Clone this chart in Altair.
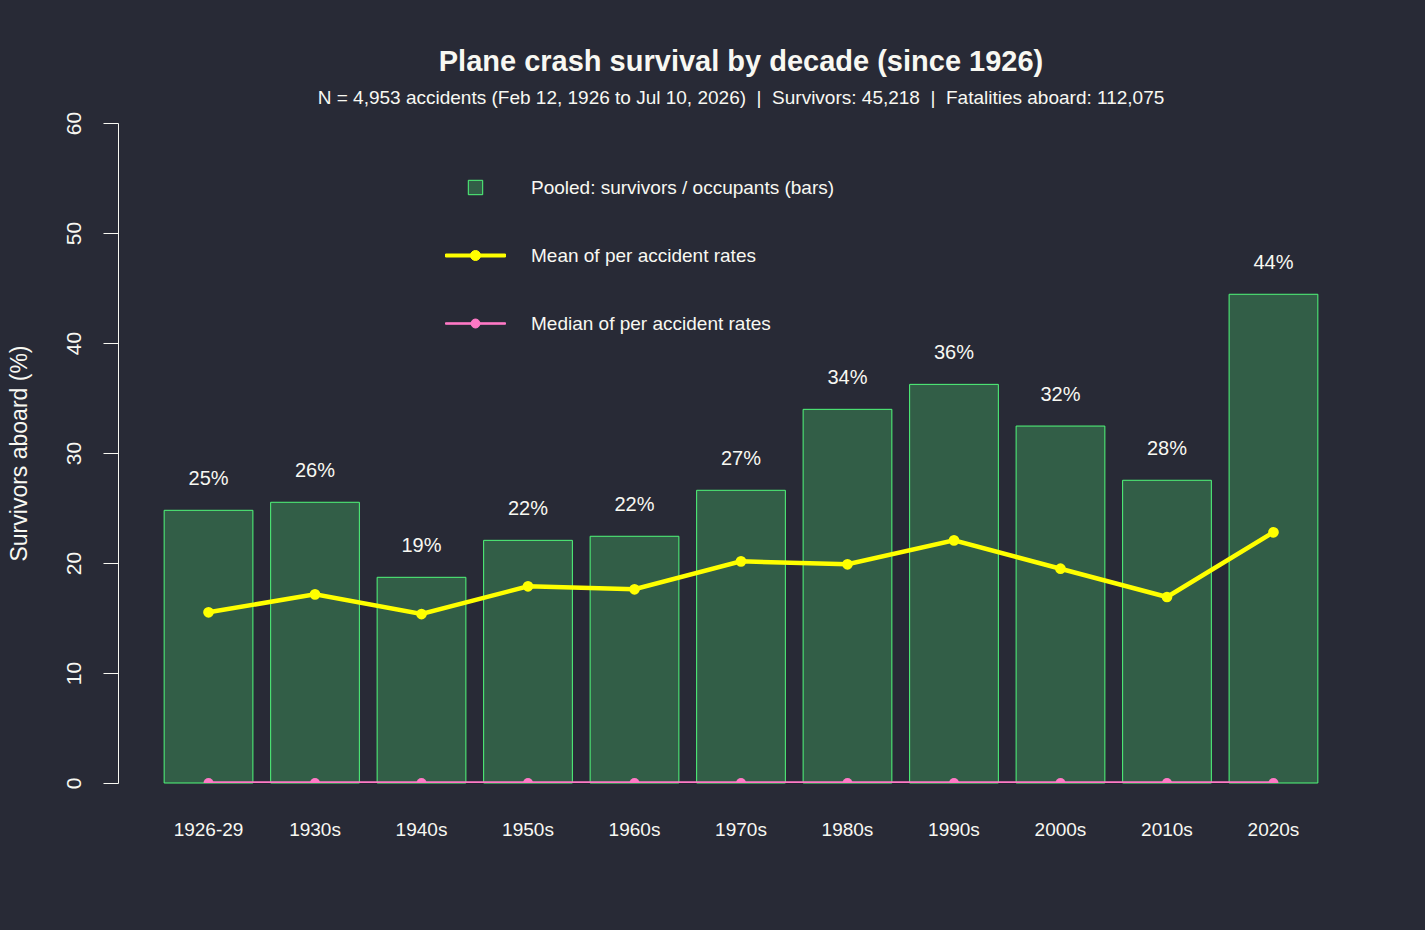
import altair as alt
import pandas as pd

# Survival rates by decade (percent of occupants aboard who survived)
decades = ["1926-29", "1930s", "1940s", "1950s", "1960s", "1970s",
           "1980s", "1990s", "2000s", "2010s", "2020s"]
pooled_rate = [24.79, 25.52, 18.70, 22.06, 22.43, 26.61, 33.97, 36.24, 32.45, 27.52, 44.43]
mean_rate = [15.52, 17.15, 15.36, 17.88, 17.61, 20.15, 19.88, 22.06, 19.48, 16.91, 22.79]
median_rate = [0.0, 0.0, 0.0, 0.0, 0.0, 0.0, 0.0, 0.0, 0.0, 0.0, 0.0]

series_names = ["Pooled: survivors / occupants (bars)",
                "Mean of per accident rates",
                "Median of per accident rates"]
y_ticks = [0, 10, 20, 30, 40, 50, 60]

BG = "#282a36"
FG = "#f8f8f2"
GREEN = "#50fa7b"
GREEN_FILL = "#325e47"
YELLOW = "#ffff00"
PINK = "#ff79c6"
FONT = "Liberation Sans"
NBSP = "\u00a0"

df = pd.DataFrame({"decade": decades, "pooled": pooled_rate,
                   "mean": mean_rate, "median": median_rate})

x_enc = alt.X(
    "decade:N", sort=decades, title=None,
    scale=alt.Scale(paddingInner=0.2 / 1.2, paddingOuter=0.52 / 1.2),
    axis=alt.Axis(labelAngle=0, domain=False, ticks=False, tickSize=0,
                  labelPadding=37, labelFontSize=19, labelColor=FG,
                  labelFont=FONT),
)

y_axis = alt.Axis(
    values=y_ticks, grid=False, domainColor=FG, tickColor=FG, tickSize=15,
    domainWidth=1, tickWidth=1,
    labelAngle=270, labelAlign="center", labelBaseline="bottom",
    labelPadding=19, labelFontSize=21, labelColor=FG, labelFont=FONT,
    title="Survivors aboard (%)", titleFontSize=23, titleFontWeight="normal",
    titleColor=FG, titleFont=FONT, titleAngle=270, titleAlign="center",
    titleBaseline="middle", titleX=-99, titleY=330,
)
y_scale = alt.Scale(domain=[0, 60], nice=False)


def y_enc(field):
    return alt.Y(f"{field}:Q", scale=y_scale, axis=y_axis,
                 title="Survivors aboard (%)")


base = alt.Chart(df)

bars = base.mark_bar(fill=GREEN, fillOpacity=0.25, stroke=GREEN,
                     strokeWidth=1).encode(x=x_enc, y=y_enc("pooled"))

labels = base.transform_calculate(
    lbl="format(round(datum.pooled), 'd') + '%'"
).mark_text(dy=-31, baseline="middle", fontSize=20, color=FG,
            font=FONT).encode(x=x_enc, y=y_enc("pooled"), text="lbl:N")

mean_line = base.mark_line(color=YELLOW, strokeWidth=4.5).encode(
    x=x_enc, y=y_enc("mean"))
mean_pts = base.mark_point(filled=True, color=YELLOW, opacity=1,
                           size=115).encode(x=x_enc, y=y_enc("mean"))

median_line = base.mark_line(color=PINK, strokeWidth=3.5, clip=True).encode(
    x=x_enc, y=y_enc("median"))
median_pts = base.mark_point(filled=True, color=PINK, opacity=1, size=100,
                             clip=True).encode(x=x_enc, y=y_enc("median"))

# Legend symbols: small framed square for bars, line-with-dot for the rates
shape_paths = [
    "M-0.24,-0.24H0.24V0.24H-0.24Z",
    "M-1,-0.05H1V0.05H-1Z M0.167,0A0.167,0.167,0,1,1,-0.167,0"
    "A0.167,0.167,0,1,1,0.167,0Z",
    "M-1,-0.025H1V0.025H-1Z M0.15,0A0.15,0.15,0,1,1,-0.15,0"
    "A0.15,0.15,0,1,1,0.15,0Z",
]

legend_props = dict(
    title=None, orient="none", legendX=327, legendY=34, padding=0,
    symbolSize=3600, symbolStrokeWidth=1, labelFontSize=19,
    labelColor=FG, labelFont=FONT, labelOffset=25, rowPadding=27,
    labelLimit=600,
)

legend_df = pd.DataFrame({"series": series_names, "blank": [None, None, None]})
legend_layer = alt.Chart(legend_df).mark_point(filled=True, opacity=1).encode(
    y=y_enc("blank"),
    fill=alt.Fill("series:N", sort=series_names,
                  scale=alt.Scale(domain=series_names,
                                  range=[GREEN_FILL, YELLOW, PINK]),
                  legend=alt.Legend(**legend_props)),
    stroke=alt.Stroke("series:N", sort=series_names,
                      scale=alt.Scale(domain=series_names,
                                      range=[GREEN, YELLOW, PINK]),
                      legend=alt.Legend(**legend_props)),
    shape=alt.Shape("series:N", sort=series_names,
                    scale=alt.Scale(domain=series_names, range=shape_paths),
                    legend=alt.Legend(**legend_props)),
)

sep = f" {NBSP}|{NBSP} "
subtitle = ("N = 4,953 accidents (Feb 12, 1926 to Jul 10, 2026)" + sep
            + "Survivors: 45,218" + sep + "Fatalities aboard: 112,075")

chart = alt.layer(
    bars, mean_line, mean_pts, median_line, median_pts, labels, legend_layer
).properties(
    width=1246,
    height=660,
    padding={"left": 118, "top": 123, "right": 61, "bottom": 147},
    autosize=alt.AutoSizeParams(type="none"),
    background=BG,
    title=alt.Title(
        "Plane crash survival by decade (since 1926)",
        subtitle=subtitle,
        anchor="middle", fontSize=29, fontWeight="bold", color=FG, font=FONT,
        subtitleFontSize=19, subtitleColor=FG, subtitleFont=FONT,
        subtitlePadding=12, offset=3,
    ),
).configure(
    font=FONT, view=alt.ViewConfig(strokeWidth=0, stroke=None)
)

chart.save("out.html", embed_options={"renderer": "svg", "actions": False})
